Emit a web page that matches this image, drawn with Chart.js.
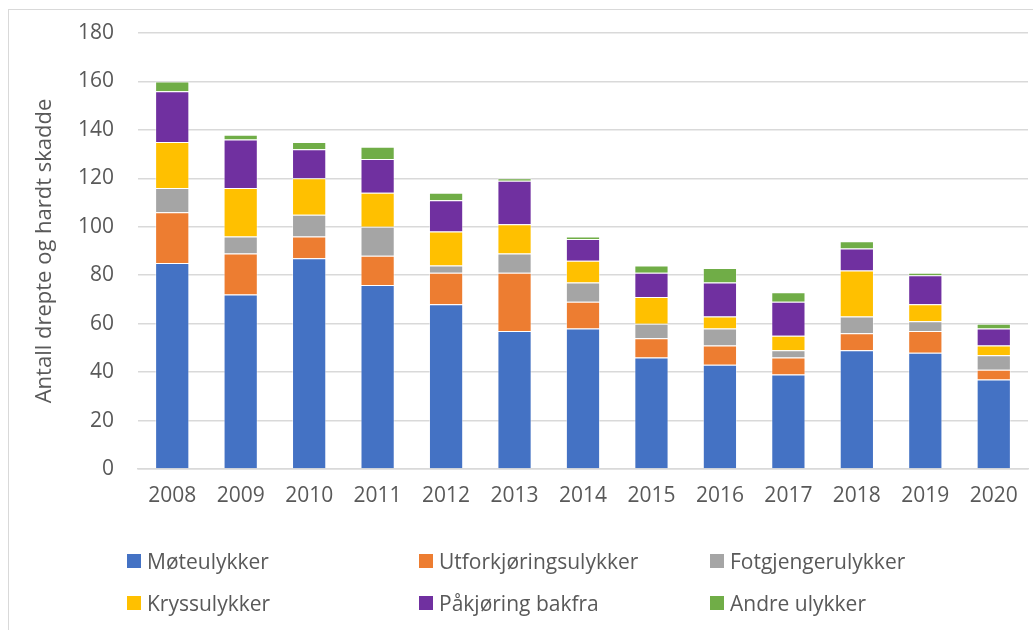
<!DOCTYPE html>
<html lang="no">
<head>
<meta charset="utf-8">
<script src="https://cdn.jsdelivr.net/npm/chart.js@4/dist/chart.umd.min.js"></script>
<style>
    html, body { margin: 0; padding: 0; background: #fff; }
    #ramme { position: relative; width: 1033px; height: 630px; overflow: hidden; }
    #kant { position: absolute; left: 8px; top: 9px; right: -5px; bottom: -5px;
            border-top: 1px solid #d9d9d9; border-left: 1px solid #d9d9d9; }
    #graf { position: absolute; left: 0; top: 0; width: 1033px; height: 530px; }
    #legende { position: absolute; left: 0; top: 0; width: 1033px; height: 630px; pointer-events: none;
               font-family: 'Open Sans', sans-serif; font-size: 21px; color: #595959; }
    .post { position: absolute; display: flex; align-items: center; white-space: nowrap; height: 28px; }
    .post span.boks { display: inline-block; width: 14px; height: 14px; margin-right: 6px; }
</style>
</head>
<body>
<div id="ramme">
    <div id="kant"></div>
    <div id="graf"><canvas id="grafico"></canvas></div>
    <div id="legende"></div>
</div>
<script>
// Data lest av figuren
const AAR = ['2008', '2009', '2010', '2011', '2012', '2013', '2014', '2015', '2016', '2017', '2018', '2019', '2020'];
const MOTEULYKKER = [85, 72, 87, 76, 68, 57, 58, 46, 43, 39, 49, 48, 37];
const UTFORKJORING = [21, 17, 9, 12, 13, 24, 11, 8, 8, 7, 7, 9, 4];
const FOTGJENGER = [10, 7, 9, 12, 3, 8, 8, 6, 7, 3, 7, 4, 6];
const KRYSS = [19, 20, 15, 14, 14, 12, 9, 11, 5, 6, 19, 7, 4];
const PAKJORING = [21, 20, 12, 14, 13, 18, 9, 10, 14, 14, 9, 12, 7];
const ANDRE = [4, 2, 3, 5, 3, 1, 1, 3, 6, 4, 3, 1, 2];
const Y_TICKS = [0, 20, 40, 60, 80, 100, 120, 140, 160, 180];

// Office-palett
const FARGER = {
    blaa: '#4472C4',
    oransje: '#ED7D31',
    graa: '#A5A5A5',
    gul: '#FFC000',
    lilla: '#7030A0',
    gronn: '#70AD47',
};

const TEKST = '#595959';
const FONT = "'Open Sans', sans-serif";

const serier = [
    { label: 'Møteulykker', data: MOTEULYKKER, farge: FARGER.blaa },
    { label: 'Utforkjøringsulykker', data: UTFORKJORING, farge: FARGER.oransje },
    { label: 'Fotgjengerulykker', data: FOTGJENGER, farge: FARGER.graa },
    { label: 'Kryssulykker', data: KRYSS, farge: FARGER.gul },
    { label: 'Påkjøring bakfra', data: PAKJORING, farge: FARGER.lilla },
    { label: 'Andre ulykker', data: ANDRE, farge: FARGER.gronn },
];

new Chart(document.getElementById('grafico'), {
    type: 'bar',
    data: {
        labels: AAR,
        datasets: serier.map((s) => ({
            label: s.label,
            data: s.data,
            backgroundColor: s.farge,
            borderColor: 'rgba(255, 255, 255, 0.45)',
            borderWidth: 1,
            barPercentage: 0.5,
            categoryPercentage: 1,
        })),
    },
    options: {
        responsive: true,
        maintainAspectRatio: false,
        animation: false,
        layout: { padding: { top: 33, right: 5, bottom: 0, left: 0 } },
        plugins: { legend: { display: false }, tooltip: { enabled: false } },
        scales: {
            x: {
                stacked: true,
                grid: { display: false, drawTicks: false },
                border: { color: '#d9d9d9', width: 1.5 },
                ticks: { color: TEKST, font: { family: FONT, size: 21 }, padding: 14, maxRotation: 0 },
                afterFit: (axis) => { axis.height = 61; },
            },
            y: {
                stacked: true,
                min: 0,
                max: 180,
                afterBuildTicks: (axis) => { axis.ticks = Y_TICKS.map((v) => ({ value: v })); },
                grid: { color: '#d9d9d9', lineWidth: 1.5, drawTicks: false },
                border: { display: false },
                ticks: { color: TEKST, font: { family: FONT, size: 21 }, padding: 24 },
                title: {
                    display: true,
                    text: 'Antall drepte og hardt skadde',
                    color: TEKST,
                    font: { family: FONT, size: 22 },
                    padding: { top: 32, bottom: 0 },
                },
                afterFit: (axis) => {
                    // tick-padding skal bare flytte tallene sidelengs, ikke krympe plottet
                    axis.width = 138;
                    axis.paddingTop = 0;
                    axis.paddingBottom = 0;
                },
            },
        },
    },
});

// Egen legende i tre kolonner, som i Excel-figuren
const KOLONNER = [127, 419, 710];
const RADER = [561, 603];
const legende = document.getElementById('legende');
serier.forEach((s, i) => {
    const post = document.createElement('div');
    post.className = 'post';
    post.style.left = KOLONNER[i % 3] + 'px';
    post.style.top = (RADER[Math.floor(i / 3)] - 14) + 'px';
    const boks = document.createElement('span');
    boks.className = 'boks';
    boks.style.background = s.farge;
    const tekst = document.createElement('span');
    tekst.textContent = s.label;
    post.appendChild(boks);
    post.appendChild(tekst);
    legende.appendChild(post);
});
</script>
</body>
</html>
